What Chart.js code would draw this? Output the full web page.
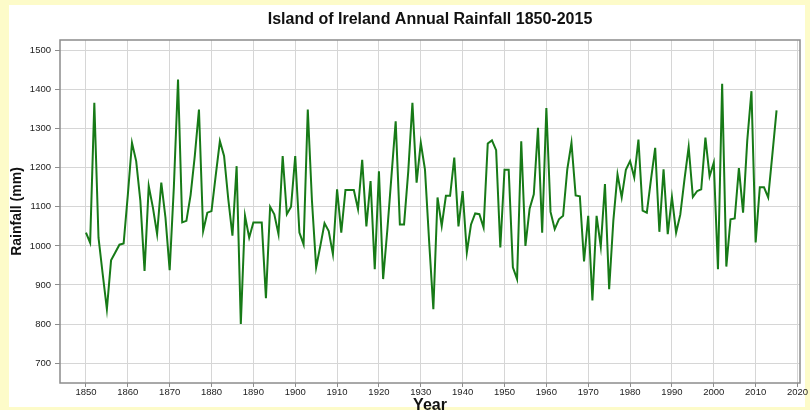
<!DOCTYPE html>
<html>
<head>
<meta charset="utf-8">
<title>Island of Ireland Annual Rainfall 1850-2015</title>
<script src="https://cdn.jsdelivr.net/npm/chart.js@4/dist/chart.umd.min.js"></script>
<style>
  html, body { margin: 0; padding: 0; background: #ffffff; }
  #c { display: block; }
</style>
</head>
<body>
<canvas id="c" width="810" height="410"></canvas>
<script>
// Annual rainfall totals (mm), island of Ireland, one value per year from startYear
const startYear = 1850;
const rainfall = [
  1034, 1008, 1366, 1021,  928,  838,  963,  983, 1003, 1006,  // 1850s
  1130, 1264, 1217, 1115,  936, 1153, 1098, 1030, 1162, 1072,  // 1860s
   938, 1150, 1426, 1060, 1064, 1130, 1230, 1349, 1038, 1085,  // 1870s
  1089, 1180, 1268, 1230, 1120, 1026, 1204,  800, 1077, 1021,  // 1880s
  1060, 1060, 1060,  866, 1100, 1081, 1030, 1230, 1081, 1100,  // 1890s
  1230, 1034, 1004, 1349, 1115,  945, 1000, 1058, 1038,  979,  // 1900s
  1145, 1034, 1143, 1143, 1143, 1094, 1220, 1050, 1166,  940,  // 1910s
  1191,  915, 1040, 1180, 1319, 1055, 1055, 1190, 1366, 1162,  // 1920s
  1264, 1195, 1010,  838, 1124, 1051, 1128, 1128, 1226, 1050,  // 1930s
  1140,  983, 1055, 1083, 1081, 1047, 1262, 1270, 1245,  996,  // 1940s
  1195, 1195,  945,  915, 1268, 1000, 1095, 1132, 1302, 1034,  // 1950s
  1353, 1087, 1043, 1068, 1077, 1196, 1264, 1129, 1127,  960,  // 1960s
  1077,  860, 1077,  998, 1158,  889, 1064, 1183, 1124, 1195,  // 1970s
  1217, 1175, 1272, 1090, 1085, 1170, 1251, 1036, 1196, 1030,  // 1980s
  1125, 1034, 1080, 1170, 1253, 1125, 1140, 1145, 1277, 1178,  // 1990s
  1213,  940, 1415,  947, 1068, 1070, 1199, 1085, 1270, 1396,  // 2000s
  1009, 1150, 1150, 1124, 1234, 1347                           // 2010s
];
const years = rainfall.map((_, i) => startYear + i);

// Axis tick labels
const yearTicks = [1850, 1860, 1870, 1880, 1890, 1900, 1910, 1920, 1930,
                   1940, 1950, 1960, 1970, 1980, 1990, 2000, 2010, 2020];
const rainTicks = [700, 800, 900, 1000, 1100, 1200, 1300, 1400, 1500];

const chartTitle = 'Island of Ireland Annual Rainfall 1850-2015';

const points = years.map((yr, i) => ({ x: yr, y: rainfall[i] }));

const FONT = "'Liberation Sans', Arial, Helvetica, sans-serif";

// Pale yellow frame behind a white sheet, a box round the plot area,
// and the title centred over the plot area
const framePlugin = {
  id: 'frame',
  beforeDraw(chart) {
    const { ctx, width, height } = chart;
    ctx.save();
    ctx.fillStyle = '#fdfbc9';
    ctx.fillRect(0, 0, width, height);
    ctx.fillStyle = '#ffffff';
    ctx.fillRect(9, 5, width - 14, height - 8);
    ctx.restore();
  },
  afterDatasetsDraw(chart) {
    const { ctx, chartArea: a } = chart;
    ctx.save();
    ctx.strokeStyle = '#8c8c8c';
    ctx.lineWidth = 1.5;
    ctx.strokeRect(a.left, a.top, a.right - a.left, a.bottom - a.top);
    ctx.restore();
  },
  afterDraw(chart) {
    const { ctx, chartArea: a } = chart;
    ctx.save();
    ctx.fillStyle = '#111';
    ctx.font = 'bold 16px ' + FONT;
    ctx.textAlign = 'center';
    ctx.textBaseline = 'middle';
    ctx.fillText(chartTitle, (a.left + a.right) / 2, 20);
    ctx.restore();
  }
};

new Chart(document.getElementById('c'), {
  type: 'line',
  data: {
    datasets: [{
      label: 'Rainfall (mm)',
      data: points,
      borderColor: '#177a17',
      borderWidth: 2,
      pointRadius: 0,
      tension: 0,
      fill: false
    }]
  },
  options: {
    responsive: false,
    animation: false,
    events: [],
    layout: { padding: { left: 0, right: 10, top: 40, bottom: 0 } },
    plugins: {
      legend: { display: false },
      tooltip: { enabled: false },
      title: { display: false }
    },
    scales: {
      x: {
        type: 'linear',
        min: 1843.8,
        max: 2020.6,
        afterBuildTicks(scale) { scale.ticks = yearTicks.map(v => ({ value: v })); },
        afterFit(scale) { scale.height = 27; },
        ticks: {
          color: '#222',
          font: { family: FONT, size: 9.5 },
          padding: 0,
          maxRotation: 0,
          autoSkip: false,
          callback: v => String(v)
        },
        grid: { color: '#d6d6d6', lineWidth: 1, tickLength: 4, tickColor: '#8c8c8c' },
        border: { display: false },
        title: {
          display: true,
          text: 'Year',
          color: '#111',
          font: { family: FONT, size: 16, weight: 'bold', lineHeight: 1 },
          padding: { top: 0, bottom: -4 }
        }
      },
      y: {
        type: 'linear',
        min: 649,
        max: 1527,
        afterBuildTicks(scale) { scale.ticks = rainTicks.map(v => ({ value: v })); },
        afterFit(scale) { scale.width = 60; },
        ticks: {
          color: '#222',
          font: { family: FONT, size: 9.5 },
          padding: 4,
          autoSkip: false,
          callback: v => String(v)
        },
        grid: { color: '#d6d6d6', lineWidth: 1, tickLength: 5, tickColor: '#8c8c8c' },
        border: { display: false },
        title: {
          display: true,
          text: 'Rainfall (mm)',
          color: '#111',
          font: { family: FONT, size: 14, weight: 'bold', lineHeight: 1 },
          padding: { top: 10, bottom: 0 }
        }
      }
    }
  },
  plugins: [framePlugin]
});
</script>
</body>
</html>
